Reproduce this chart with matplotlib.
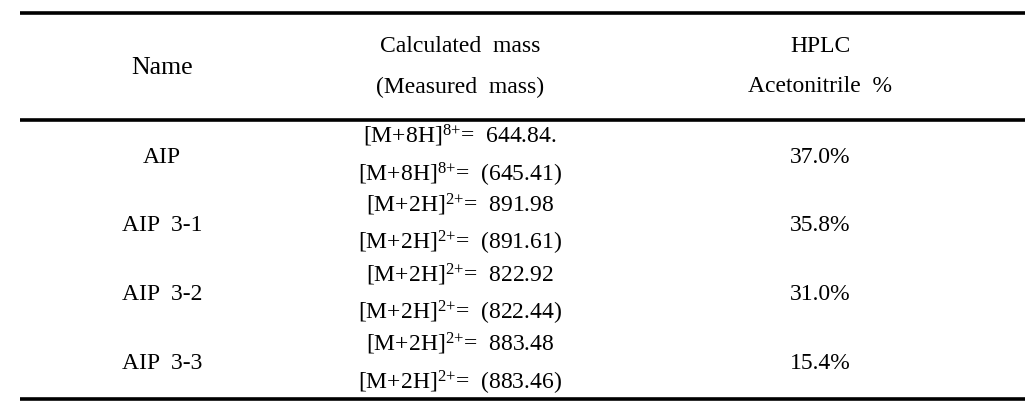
import matplotlib
matplotlib.use("Agg")
import matplotlib.pyplot as plt

plt.rcParams['font.family'] = ['Liberation Serif', 'DejaVu Serif']
plt.rcParams['mathtext.fontset'] = 'custom'
plt.rcParams['mathtext.rm'] = 'Liberation Serif'
plt.rcParams['mathtext.it'] = 'Liberation Serif'

# table data
names = ["AIP", "AIP  3-1", "AIP  3-2", "AIP  3-3"]
ions = ["[M+8H]", "[M+2H]", "[M+2H]", "[M+2H]"]
charges = ["8", "2", "2", "2"]
calc_mass = ["644.84.", "891.98", "822.92", "883.48"]
meas_mass = ["645.41", "891.61", "822.44", "883.46"]
hplc = ["37.0%", "35.8%", "31.0%", "15.4%"]

headers = [("Name",), ("Calculated  mass", "(Measured  mass)"), ("HPLC", "Acetonitrile  %")]

fig = plt.figure(figsize=(10.31, 4.06), dpi=100)
ax = fig.add_axes([0, 0, 1, 1])
ax.set_xlim(0, 1031)
ax.set_ylim(406, 0)
ax.axis('off')

col_x = [162, 460, 820]
fs = 17

# rules
for y in [14, 121, 399.5]:
    ax.plot([20, 1025], [y, y], color='black', lw=2.6, solid_capstyle='butt')

# header
ax.text(col_x[0], 68, headers[0][0], ha='center', va='center', fontsize=18.5)
ax.text(col_x[1], 47, headers[1][0], ha='center', va='center', fontsize=fs)
ax.text(col_x[1], 87, headers[1][1], ha='center', va='center', fontsize=fs)
ax.text(col_x[2], 47, headers[2][0], ha='center', va='center', fontsize=fs)
ax.text(col_x[2], 87, headers[2][1], ha='center', va='center', fontsize=fs)

row_mid = [158, 226, 295, 364]
row_top = [136, 205, 275, 344]
row_bot = [175, 243, 313, 383]

for i in range(len(names)):
    ax.text(col_x[0], row_mid[i], names[i], ha='center', va='center', fontsize=fs)
    ax.text(col_x[2], row_mid[i], hplc[i], ha='center', va='center', fontsize=fs)
    sup = r"$^{\mathrm{" + charges[i] + "{+}}}$"
    s1 = ions[i] + sup + "=  " + calc_mass[i]
    s2 = ions[i] + sup + "=  (" + meas_mass[i] + ")"
    ax.text(col_x[1], row_top[i], s1, ha='center', va='center', fontsize=fs)
    ax.text(col_x[1], row_bot[i], s2, ha='center', va='center', fontsize=fs)

fig.savefig("out.png", dpi=100)
